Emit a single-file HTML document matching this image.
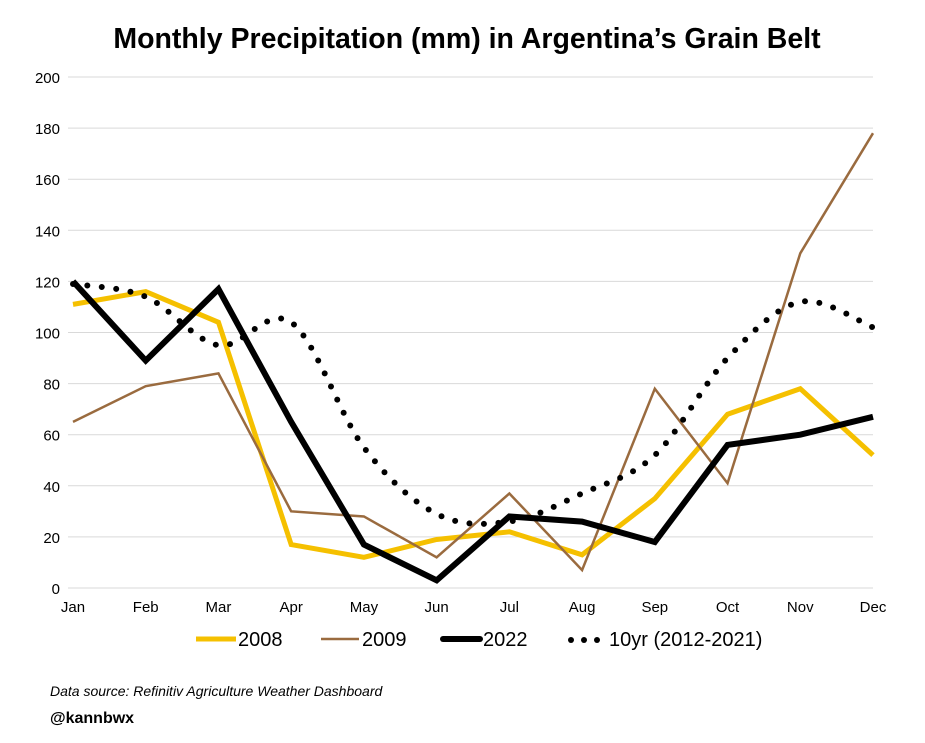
<!DOCTYPE html>
<html><head><meta charset="utf-8"><style>
body{margin:0;background:#fff;width:925px;height:738px;overflow:hidden;font-family:"Liberation Sans",Arial,sans-serif;}
</style></head><body>
<svg width="925" height="738" font-family="Liberation Sans, Arial, sans-serif">
<text x="467" y="48" text-anchor="middle" font-size="28.5" font-weight="bold">Monthly Precipitation (mm) in Argentina’s Grain Belt</text>
<g id="grid"></g><g id="yticks"></g><g id="xticks"></g><g id="series"></g>
<g>
<line x1="196" y1="639" x2="236" y2="639" stroke="#F5C000" stroke-width="5"/>
<text x="238" y="646" font-size="20">2008</text>
<line x1="321" y1="639" x2="359" y2="639" stroke="#9A6B3F" stroke-width="2.5"/>
<text x="362" y="646" font-size="20">2009</text>
<line x1="443" y1="639" x2="480" y2="639" stroke="#000" stroke-width="6" stroke-linecap="round"/>
<text x="483" y="646" font-size="20">2022</text>
<g fill="#000"><circle cx="571" cy="640" r="3"/><circle cx="584" cy="640" r="3"/><circle cx="597" cy="640" r="3"/></g>
<text x="609" y="646" font-size="20">10yr (2012-2021)</text>
</g>
<text x="50" y="696" font-size="14" font-style="italic">Data source: Refinitiv Agriculture Weather Dashboard</text>
<text x="50" y="723" font-size="16" font-weight="bold">@kannbwx</text>
</svg>
<script>
const months=["Jan","Feb","Mar","Apr","May","Jun","Jul","Aug","Sep","Oct","Nov","Dec"];
const yTicks=[0,20,40,60,80,100,120,140,160,180,200];
const s2008=[111,116,104,17,12,19,22,13,35,68,78,52];
const s2009=[65,79,84,30,28,12,37,7,78,41,131,178];
const s2022=[120,89,117,65,17,3,28,26,18,56,60,67];
const s10yr=[119,114,95,104,55,29,26,37,52,90,112,102];
const NS="http://www.w3.org/2000/svg";
const X=i=>73+i*(800/11);
const Y=v=>588-v*(511/200);
function mk(tag,attrs,parent){const e=document.createElementNS(NS,tag);for(const k in attrs)e.setAttribute(k,attrs[k]);document.getElementById(parent).appendChild(e);return e;}
yTicks.forEach(t=>{
 const g=mk("line",{x1:68,x2:873,y1:Y(t),y2:Y(t),stroke:"#d9d9d9","stroke-width":1},"grid");
 
 
 const tx=mk("text",{x:60,y:Y(t)+6,"text-anchor":"end","font-size":"15"},"yticks");
 tx.textContent=t;
 
 
});
months.forEach((m,i)=>{
 const tx=mk("text",{x:X(i),y:612,"text-anchor":"middle","font-size":"15"},"xticks");
 tx.textContent=m;
 
 
});
function poly(d){return d.map((v,i)=>(i?"L":"M")+X(i)+","+Y(v)).join("");}
function smooth(d){const p=d.map((v,i)=>[X(i),Y(v)]);let s="M"+p[0];for(let i=0;i<p.length-1;i++){const p0=p[i-1]||p[i],p1=p[i],p2=p[i+1],p3=p[i+2]||p2;const c1=[p1[0]+(p2[0]-p0[0])/6,p1[1]+(p2[1]-p0[1])/6],c2=[p2[0]-(p3[0]-p1[0])/6,p2[1]-(p3[1]-p1[1])/6];s+="C"+c1+" "+c2+" "+p2;}return s;}
const a=mk("path",{d:poly(s2008),fill:"none",stroke:"#F5C000","stroke-width":5,"stroke-linejoin":"miter"},"series");


const b=mk("path",{d:poly(s2009),fill:"none",stroke:"#9A6B3F","stroke-width":2.5},"series");


const c=mk("path",{d:poly(s2022),fill:"none",stroke:"#000","stroke-width":6},"series");


const d=mk("path",{d:smooth(s10yr),fill:"none",stroke:"#000","stroke-width":6,"stroke-linecap":"round","stroke-dasharray":"0 14.5"},"series");


</script>
</body></html>
